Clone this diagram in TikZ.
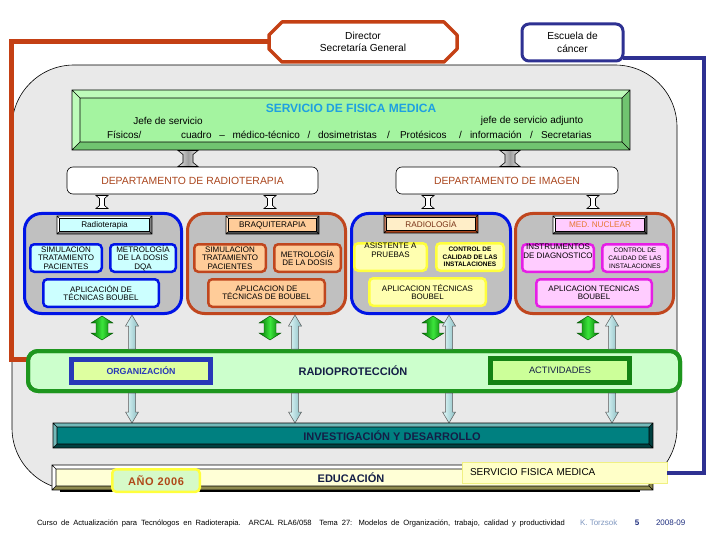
\documentclass[tikz,border=0pt]{standalone}
\usepackage{fontspec}
\setmainfont{Liberation Sans}
\usetikzlibrary{calc}
\definecolor{redl}{RGB}{196,64,20}
\definecolor{navy}{RGB}{46,49,146}
\definecolor{bggray}{RGB}{233,233,233}
\definecolor{sfmface}{RGB}{164,244,160}
\definecolor{sfmlight}{RGB}{190,252,186}
\definecolor{sfmdark}{RGB}{112,196,112}
\definecolor{titlec}{RGB}{30,160,225}
\definecolor{deptc}{RGB}{170,70,30}
\definecolor{grpgray}{RGB}{192,192,192}
\definecolor{blueb}{RGB}{0,20,230}
\definecolor{orangeb}{RGB}{192,70,30}
\definecolor{cyanf}{RGB}{204,255,255}
\definecolor{orangef}{RGB}{255,204,153}
\definecolor{yellowf}{RGB}{255,255,176}
\definecolor{yellowb}{RGB}{255,255,60}
\definecolor{pinkf}{RGB}{255,204,255}
\definecolor{pinkb}{RGB}{230,30,230}
\definecolor{radhead}{RGB}{255,238,200}
\definecolor{medtxt}{RGB}{230,120,50}
\definecolor{rpfill}{RGB}{204,255,204}
\definecolor{rpborder}{RGB}{30,150,30}
\definecolor{orgfill}{RGB}{222,255,160}
\definecolor{orgblue}{RGB}{40,56,184}
\definecolor{actgreen}{RGB}{20,130,20}
\definecolor{actfill}{RGB}{204,255,153}
\definecolor{tealc}{RGB}{0,128,128}
\definecolor{educf}{RGB}{255,255,214}
\definecolor{anofill}{RGB}{214,250,200}
\definecolor{anotxt}{RGB}{176,72,24}
\definecolor{sfmlab}{RGB}{255,255,200}
\definecolor{sfmlabb}{RGB}{240,240,130}
\definecolor{greend}{RGB}{0,110,0}
\definecolor{greenb}{RGB}{60,230,60}
\definecolor{cyanl}{RGB}{225,250,250}
\definecolor{cyand}{RGB}{140,190,195}
\definecolor{footgray}{RGB}{128,152,192}
\definecolor{footblue}{RGB}{32,48,128}
\definecolor{darktxt}{RGB}{20,30,70}

% bevelled box: x1 y1 x2 y2 d face light dark
\newcommand\mybevel[8]{%
  \fill[#8] (#1,#2) rectangle (#3,#4);
  \fill[#7] (#1,#2) -- (#3,#2) -- (#3-#5,#2+#5) -- (#1+#5,#2+#5) -- (#1+#5,#4-#5) -- (#1,#4) -- cycle;
  \fill[#6] (#1+#5,#2+#5) rectangle (#3-#5,#4-#5);
  \draw[black, line width=0.6] (#1,#2) rectangle (#3,#4)
    (#1+#5,#2+#5) rectangle (#3-#5,#4-#5)
    (#1,#2) -- (#1+#5,#2+#5) (#3,#2) -- (#3-#5,#2+#5)
    (#1,#4) -- (#1+#5,#4-#5) (#3,#4) -- (#3-#5,#4-#5);}
% vertical double arrow: cx ytop ybot shafthalf headhalf headlen style
\newcommand\vdarrow[7]{%
  \path[#7] (#1,#2) -- (#1+#5,#2+#6) -- (#1+#4,#2+#6) -- (#1+#4,#3-#6) -- (#1+#5,#3-#6)
    -- (#1,#3) -- (#1-#5,#3-#6) -- (#1-#4,#3-#6) -- (#1-#4,#2+#6) -- (#1-#5,#2+#6) -- cycle;}
% vertical I-beam: cx ytop ybot shafthalf barhalf barh style
\newcommand\ibeam[7]{%
  \path[#7] (#1-#5,#2) -- (#1+#5,#2) -- (#1+#4,#2+#6) -- (#1+#4,#3-#6) -- (#1+#5,#3)
    -- (#1-#5,#3) -- (#1-#4,#3-#6) -- (#1-#4,#2+#6) -- cycle;}
% single up arrow: cx ytip ytail shafthalf headhalf headlen style
\newcommand\myuparr[7]{%
  \path[#7] (#1,#2) -- (#1+#5,#2+#6) -- (#1+#4,#2+#6) -- (#1+#4,#3) -- (#1-#4,#3)
    -- (#1-#4,#2+#6) -- (#1-#5,#2+#6) -- cycle;}
% single down arrow: cx ytip ytail shafthalf headhalf headlen style
\newcommand\mydnarr[7]{%
  \path[#7] (#1,#2) -- (#1+#5,#2-#6) -- (#1+#4,#2-#6) -- (#1+#4,#3) -- (#1-#4,#3)
    -- (#1-#4,#2-#6) -- (#1-#5,#2-#6) -- cycle;}

\tikzset{
  every node/.style={inner sep=0pt, outer sep=0pt},
  dept/.style={draw=black, line width=0.6, fill=white, rounded corners=6, text=deptc,
    font=\fontsize{10.4}{11}\selectfont},
  grp/.style={line width=3, fill=grpgray, rounded corners=17},
  sub/.style={line width=2.5, rounded corners=4, align=center,
    font=\fontsize{8}{8.3}\selectfont},
  subsmall/.style={sub, font=\fontsize{6.5}{7.6}\bfseries\selectfont},
  head/.style={font=\fontsize{8.2}{8}\selectfont},
  sfmline/.style={font=\fontsize{10}{10}\selectfont, anchor=west},
  garrow/.style={left color=greend, right color=greend, middle color=greenb, draw=greend!70!black, line width=0.4},
  carrow/.style={left color=cyanl, right color=cyand, draw=gray!70!black, line width=0.5},
}

\begin{document}
\begin{tikzpicture}[x=1pt,y=-1pt]
\useasboundingbox (0,0) rectangle (720,540);
\fill[white] (0,0) rectangle (720,540);

% big background
\draw[fill=bggray, line width=0.6, rounded corners=62] (12,65) rectangle (677,490);

% top boxes
\node[minimum width=188, minimum height=40, align=center, font=\fontsize{10.2}{12.5}\selectfont] (dir) at (363,42) {Director\\Secretaría General};
\draw[redl, line width=3.5, line join=round] ([xshift=13]dir.north west) -- ([xshift=-13]dir.north east) -- ([yshift=-13]dir.north east) -- ([yshift=13]dir.south east) -- ([xshift=-13]dir.south east) -- ([xshift=13]dir.south west) -- ([yshift=13]dir.south west) -- ([yshift=-13]dir.north west) -- cycle;

\node[draw=navy, line width=3, rounded corners=7, minimum width=101, minimum height=37, align=center, font=\fontsize{10.2}{12.5}\selectfont] (esc) at (572.5,42.5) {Escuela de\\cáncer};

% SERVICIO DE FISICA MEDICA
\mybevel{72}{90}{630}{150}{8}{sfmface}{sfmlight}{sfmdark}
\node[font=\fontsize{12}{12}\bfseries\selectfont, text=titlec] (sfmt) at (351,108) {SERVICIO DE FISICA MEDICA};
\node[sfmline, anchor=center] (jefe) at (168,121) {Jefe de servicio};
\node[sfmline, anchor=center] (jefea) at (532,121) {jefe de servicio adjunto};
\node[sfmline] (fis) at (107,135) {Físicos/};
\node[sfmline] (cuad) at (181,135) {\makebox[196pt][s]{cuadro – médico-técnico / dosimetristas}};
\node[sfmline] (sl1) at (387,135) {/};
\node[sfmline] (prot) at (400,135) {Protésicos};
\node[sfmline] (sl2) at (459,135) {/};
\node[sfmline] (inf) at (470,135) {información};
\node[sfmline] (sl3) at (530,135) {/};
\node[sfmline] (secr) at (541,135) {Secretarias};

% departments
\node[dept, minimum width=251, minimum height=27] (drt) at (192.5,180.5) {DEPARTAMENTO DE RADIOTERAPIA};
\node[dept, minimum width=222, minimum height=27] (dim) at (507,180.5) {DEPARTAMENTO DE IMAGEN};

% gray I-beams
\ibeam{188}{150.5}{166.5}{5}{10}{4}{left color=gray!20, right color=gray!20, middle color=gray!75, draw=black, line width=0.6}
\ibeam{510}{150.5}{166.5}{5}{10}{4}{left color=gray!20, right color=gray!20, middle color=gray!75, draw=black, line width=0.6}
% white I-beams
\foreach \xx in {102,270,428,593}{\ibeam{\xx}{195.5}{208.5}{2.5}{6}{3}{fill=white, draw=black, line width=0.6}}

% group boxes
\node[grp, draw=blueb, minimum width=157, minimum height=100] (g1) at (103,263.5) {};
\node[grp, draw=orangeb, minimum width=158, minimum height=100] (g2) at (266.5,263.5) {};
\node[grp, draw=blueb, minimum width=159, minimum height=100] (g3) at (431,263.5) {};
\node[grp, draw=orangeb, minimum width=158, minimum height=100] (g4) at (594.5,263.5) {};

% headers
\mybevel{57}{216}{152}{234}{2.5}{cyanf}{white}{gray}
\node[head] (h1) at (104.5,225) {Radioterapia};
\mybevel{226}{216}{319}{234}{2.5}{orangef}{orangef!60!white}{gray!60!black}
\node[head] (h2) at (272.5,225) {BRAQUITERAPIA};
\mybevel{384}{215}{478}{233}{2.5}{radhead}{deptc!70!white}{deptc}
\node[head, text=deptc!70!black] (h3) at (431,224) {RADIOLOGÍA};
\mybevel{553}{216}{647}{234}{2.5}{pinkf}{white}{gray!60!black}
\node[head, text=medtxt] (h4) at (600,225) {MED. NUCLEAR};

% sub boxes group 1
\node[sub, draw=blueb, fill=cyanf, minimum width=71.5, minimum height=27.5] (s11) at (66,258) {SIMULACION\\TRATAMIENTO\\PACIENTES};
\node[sub, draw=blueb, fill=cyanf, minimum width=65.5, minimum height=27.5] (s12) at (143,258) {METROLOGÍA\\DE LA DOSIS\\DQA};
\node[sub, draw=blueb, fill=cyanf, minimum width=115.5, minimum height=27.5] (s13) at (101,293) {APLICACIÓN DE\\TÉCNICAS BOUBEL};
% group 2
\node[sub, draw=orangeb, fill=orangef, minimum width=71.5, minimum height=27.5] (s21) at (230,258) {SIMULACION\\TRATAMIENTO\\PACIENTES};
\node[sub, draw=orangeb, fill=orangef, minimum width=66.5, minimum height=27.5] (s22) at (307.5,258) {METROLOGÍA\\DE LA DOSIS};
\node[sub, draw=orangeb, fill=orangef, minimum width=116.5, minimum height=27.5] (s23) at (266.5,293) {APLICACION DE\\TÉCNICAS DE BOUBEL};
% group 3
\node[sub, draw=yellowb, fill=yellowf, minimum width=72.5, minimum height=27.5] (s31) at (390.5,257) {ASISTENTE A\\PRUEBAS\\[5pt]};
\node[subsmall, draw=yellowb, fill=yellowf, minimum width=67.5, minimum height=27.5] (s32) at (470,257) {CONTROL DE\\CALIDAD DE LAS\\INSTALACIONES};
\node[sub, draw=yellowb, fill=yellowf, minimum width=116.5, minimum height=27.5] (s33) at (427.5,292) {APLICACION TÉCNICAS\\BOUBEL};
% group 4
\node[sub, draw=pinkb, fill=pinkf, minimum width=71.5, minimum height=27.5] (s41) at (558,258) {INSTRUMENTOS\\DE DIAGNOSTICO\\[5pt]};
\node[subsmall, font=\fontsize{6.5}{8}\selectfont, draw=pinkb, fill=pinkf, minimum width=65.5, minimum height=27.5] (s42) at (635,258) {CONTROL DE\\CALIDAD DE LAS\\INSTALACIONES};
\node[sub, draw=pinkb, fill=pinkf, minimum width=115.5, minimum height=27.5] (s43) at (594,293) {APLICACION TECNICAS\\BOUBEL};

% radioproteccion box and red connector line
\node[draw=rpborder, line width=4, fill=rpfill, rounded corners=10, minimum width=652, minimum height=40] (rp) at (354,371) {};
\draw[redl, line width=5, line join=miter] (dir.west) -- ++(-258,0) |- ([yshift=12]rp.west);
\draw[rpborder, line width=4, rounded corners=10] (rp.north west) rectangle (rp.south east);

% arrows between groups and radioproteccion
\foreach \xx in {102,270,433,588}{\vdarrow{\xx}{316}{340}{6}{11}{7}{garrow}}
\foreach \xx in {132,295,449,612}{\myuparr{\xx}{315}{349}{3.5}{6.5}{11}{carrow}}
\foreach \xx in {132,295,449,612}{\mydnarr{\xx}{423}{393}{3.5}{6.5}{11}{carrow}}

\node[font=\fontsize{11}{11}\bfseries\selectfont, text=darktxt] (rpt) at (353,371) {RADIOPROTECCIÓN};
\node[draw=orgblue, line width=5, fill=orgfill, minimum width=139, minimum height=23, font=\fontsize{8.8}{9}\bfseries\selectfont, text=orgblue] (org) at (141,370.5) {ORGANIZACIÓN};
\node[draw=actgreen, line width=5, fill=actfill, minimum width=139, minimum height=24, font=\fontsize{9.3}{9}\selectfont, text=darktxt] (act) at (560,370.5) {ACTIVIDADES};

% investigacion / educacion
\mybevel{53}{423}{653}{448}{4}{tealc}{tealc!55!white}{tealc!50!black}
\node[font=\fontsize{11}{11}\bfseries\selectfont, text=darktxt] (inv) at (392,436) {INVESTIGACIÓN Y DESARROLLO};
\mybevel{52}{465}{653}{490}{4}{educf}{white}{olive!45!gray}
\draw[black, line width=2] (60,491) -- (640,491);
\node[font=\fontsize{11}{11}\bfseries\selectfont, text=darktxt] (edu) at (351,478) {EDUCACIÓN};
\node[draw=yellowb, line width=2.5, fill=anofill, rounded corners=4, minimum width=87.5, minimum height=22.5, font=\fontsize{11}{11}\bfseries\addfontfeatures{LetterSpace=6}\selectfont, text=anotxt] (ano) at (156,480.5) {AÑO 2006};
\node[draw=sfmlabb, line width=1, fill=sfmlab, minimum width=205, minimum height=21, text width=189, align=left, font=\fontsize{10}{10}\selectfont] (sfm) at (564.5,472.5) {SERVICIO FISICA MEDICA};
\draw[navy, line width=4] ([yshift=-15.5]esc.east) -- ++(80.5,0) |- (sfm.east);

% footer
\node[anchor=west, font=\fontsize{7.6}{7}\selectfont] (foot) at (37,523) {\makebox[528pt][s]{Curso de Actualización para Tecnólogos en Radioterapia. ARCAL RLA6/058 \ Tema 27: Modelos de Organización, trabajo, calidad y productividad}};
\node[anchor=west, font=\fontsize{8}{7}\selectfont, text=footgray] (aut) at (580,523) {K. Torzsok};
\node[font=\fontsize{8}{7}\bfseries\selectfont, text=footblue] (pg) at (637,523) {5};
\node[anchor=west, font=\fontsize{8}{7}\selectfont, text=footblue] (yr) at (656,523) {2008-09};
\end{tikzpicture}
\end{document}
